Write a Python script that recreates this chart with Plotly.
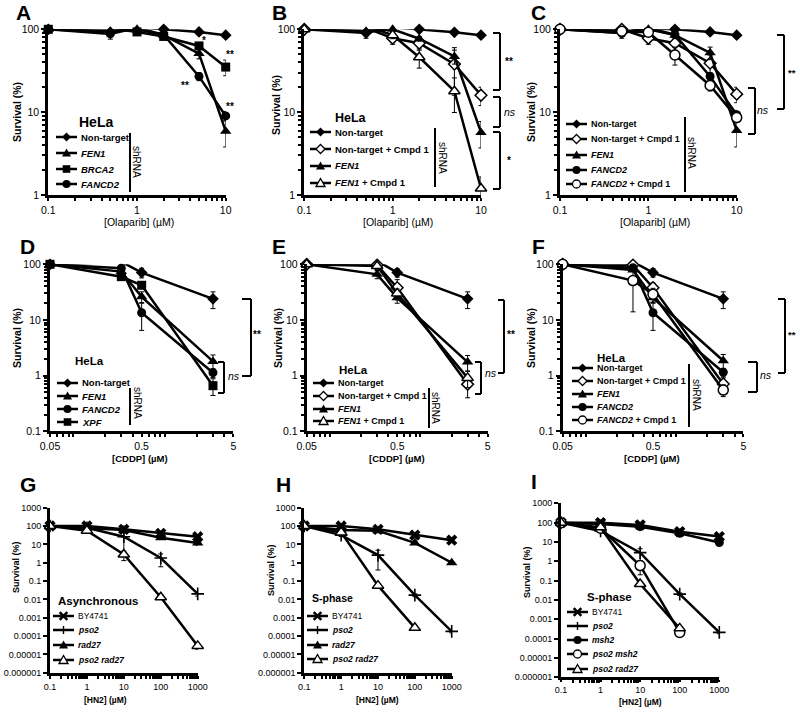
import plotly.graph_objects as go

W, H = 800, 713
FONT = "Liberation Sans, Arial, sans-serif"

# ------------------------------------------------------------------ data
OLA_X = [0.1, 0.5, 1, 2, 5, 10]
CDDP_X = [0.05, 0.3, 0.5, 3]
HN2_X = [0.1, 1, 10, 100, 1000]
HN2_X4 = [0.1, 1, 10, 100]

OLA_TICKS = [0.1, 1, 10]
OLA_TICK_LABELS = ["0.1", "1", "10"]
CDDP_TICKS = [0.05, 0.5, 5]
CDDP_TICK_LABELS = ["0.05", "0.5", "5"]
HN2_TICKS = [0.1, 1, 10, 100, 1000]
HN2_TICK_LABELS = ["0.1", "1", "10", "100", "1000"]
SURV_TICKS_OLA = [1, 10, 100]
SURV_LABELS_OLA = ["1", "10", "100"]
SURV_TICKS_CDDP = [0.1, 1, 10, 100]
SURV_LABELS_CDDP = ["0.1", "1", "10", "100"]
SURV_TICKS_HN2 = [1e-6, 1e-5, 1e-4, 1e-3, 1e-2, 0.1, 1, 10, 100, 1000]
SURV_LABELS_HN2 = ["0.000001", "0.00001", "0.0001", "0.001", "0.01",
                   "0.1", "1", "10", "100", "1000"]

# Panel A (Olaparib)
A_NT = [100, 92, 106, 100, 93, 85]
A_NT_SD = [3, 16, 3, 3, 3, 3]
A_FEN1 = [100, 95, 100, 85, 51, 5.9]
A_FEN1_SD = [3, 5, 4, 5, 7, 2.1]
A_BRCA2 = [100, 103, 93, 82, 63, 35]
A_BRCA2_SD = [3, 4, 4, 5, 6, 7.5]
A_FANCD2 = [100, 88, 104, 86, 27, 9.0]
A_FANCD2_SD = [3, 6, 4, 5, 3, 1.2]

# Panel B
B_NT = [100, 90, 106, 100, 92, 85]
B_NT_SD = [3, 12, 3, 3, 3, 3]
B_NTC = [100, 104, 78, 68, 38, 16]
B_NTC_SD = [3, 5, 12, 12, 22, 4]
B_FEN1 = [100, 95, 100, 77, 47, 5.7]
B_FEN1_SD = [3, 5, 5, 5, 9, 2]
B_FENC = [100, 110, 85, 46, 17.9, 1.2]
B_FENC_SD = [3, 6, 8, 12, 8, 0.45]

# Panel C
C_NT = [100, 90, 103, 100, 93, 85]
C_NT_SD = [3, 12, 3, 12, 3, 3]
C_NTC = [100, 100, 78, 68, 39, 16.5]
C_NTC_SD = [3, 5, 12, 12, 10, 3.5]
C_FEN1 = [100, 95, 100, 85, 52, 6.0]
C_FEN1_SD = [3, 5, 5, 5, 9, 2.2]
C_FANCD2 = [100, 90, 104, 86, 27, 9.3]
C_FANCD2_SD = [3, 8, 4, 5, 3, 1.2]
C_FANCDC = [100, 95, 92, 49, 21, 8.6]
C_FANCDC_SD = [3, 5, 5, 12, 3, 1]

# Panel D (CDDP)
D_NT = [100, 111, 71, 24]
D_NT_SD = [3, 5, 14, 8]
D_FEN1 = [100, 74, 26, 1.8]
D_FEN1_SD = [3, 5, 6, 0.55]
D_FANCD2 = [100, 85, 13.5, 1.13]
D_FANCD2_SD = [3, 5, 7, 0.2]
D_XPF = [100, 60, 42, 0.66]
D_XPF_SD = [3, 5, 5, 0.22]

# Panel E
E_NT = [100, 115, 71, 24]
E_NT_SD = [3, 5, 12, 8]
E_NTC = [100, 97, 38, 0.70]
E_NTC_SD = [3, 5, 15, 0.3]
E_FEN1 = [100, 66, 25, 1.75]
E_FEN1_SD = [3, 11, 5, 0.55]
E_FENC = [100, 93, 30, 0.91]
E_FENC_SD = [3, 5, 6, 0.3]

# Panel F
F_NT = [100, 111, 71, 24]
F_NT_SD = [3, 5, 12, 8]
F_NTC = [100, 97, 38, 0.71]
F_NTC_SD = [3, 5, 8, 0.2]
F_FEN1 = [100, 79, 25, 1.85]
F_FEN1_SD = [3, 5, 5, 0.55]
F_FANCD2 = [100, 87, 13.5, 1.15]
F_FANCD2_SD = [3, 5, 7, 0.2]
F_FANCDC = [100, 51, 29, 0.55]
F_FANCDC_SD = [3, 37, 8, 0.13]

# Panel G (HN2, asynchronous)
G_BY = [100, 100, 66, 40, 26]
G_BY_SD = [5, 5, 8, 6, 4]
G_PSO2 = [100, 80, 26, 1.8, 0.02]
G_PSO2_SD = [5, 10, 23, 1.2, 0.005]
G_RAD27 = [100, 75, 60, 23, 12]
G_RAD27_SD = [5, 8, 8, 4, 3]
G_PR = [100, 56, 2.8, 0.013, 0.000029]
G_PR_SD = [5, 8, 1.5, 0.002, 0.00001]

# Panel H (HN2, S-phase)
H_BY = [100, 100, 66, 32, 17]
H_BY_SD = [5, 5, 8, 5, 3]
H_PSO2 = [100, 32, 2.6, 0.017, 0.00018]
H_PSO2_SD = [5, 5, 2.2, 0.003, 0.00003]
H_RAD27 = [100, 60, 55, 12, 1.0]
H_RAD27_SD = [5, 8, 8, 2, 0.15]
H_PR = [100, 45, 0.056, 0.00028]
H_PR_SD = [5, 6, 0.01, 0.00005]

# Panel I (HN2, S-phase)
I_BY = [100, 100, 76, 34, 19]
I_BY_SD = [5, 5, 8, 5, 3]
I_PSO2 = [100, 37, 2.8, 0.02, 0.00021]
I_PSO2_SD = [5, 5, 1.7, 0.003, 0.00003]
I_MSH2 = [100, 85, 62, 28, 9.3]
I_MSH2_SD = [5, 6, 6, 4, 1.5]
I_PM = [100, 51, 0.6, 0.00021]
I_PM_SD = [5, 6, 0.4, 0.00004]
I_PR = [100, 57, 0.067, 0.00034]
I_PR_SD = [5, 6, 0.012, 0.00005]

# legend labels
L_NT = "<b>Non-target</b>"
L_NTC = "<b>Non-target + Cmpd 1</b>"
L_FEN1 = "<b><i>FEN1</i></b>"
L_FENC = "<b><i>FEN1</i> + Cmpd 1</b>"
L_BRCA2 = "<b><i>BRCA2</i></b>"
L_FANCD2 = "<b><i>FANCD2</i></b>"
L_FANCDC = "<b><i>FANCD2</i> + Cmpd 1</b>"
L_XPF = "<b><i>XPF</i></b>"
L_BY = "BY4741"
L_PSO2 = "<b><i>pso2</i></b>"
L_RAD27 = "<b><i>rad27</i></b>"
L_MSH2 = "<b><i>msh2</i></b>"
L_PM = "<b><i>pso2 msh2</i></b>"
L_PR = "<b><i>pso2 rad27</i></b>"

# ------------------------------------------------------------------ styles
MARKERS = {
    "dia":   dict(symbol="diamond", size=9, color="black", line=dict(width=0)),
    "dia_o": dict(symbol="diamond", size=9, color="white", line=dict(color="black", width=1.5)),
    "tri":   dict(symbol="triangle-up", size=10, color="black", line=dict(width=0)),
    "tri_o": dict(symbol="triangle-up", size=10, color="white", line=dict(color="black", width=1.5)),
    "sq":    dict(symbol="square", size=9, color="black", line=dict(width=0)),
    "cir":   dict(symbol="circle", size=9, color="black", line=dict(width=0)),
    "cir_o": dict(symbol="circle", size=10, color="white", line=dict(color="black", width=1.5)),
    "x":     dict(symbol="x", size=10, color="black", line=dict(width=0)),
    "cross": dict(symbol="cross-thin", size=9, color="black", line=dict(color="black", width=1.6)),
}


def fx(x):
    return x / W


def fy(y):
    return 1 - y / H


shapes, annotations = [], []


def seg(x0, y0, x1, y1, w=2.0):
    shapes.append(dict(type="line", xref="paper", yref="paper", x0=fx(x0), y0=fy(y0),
                       x1=fx(x1), y1=fy(y1), line=dict(color="black", width=w), layer="above"))


def text(x, y, s, size=10, xanchor="center", yanchor="middle", angle=0, color="black", height=None):
    a = dict(x=fx(x), y=fy(y), xref="paper", yref="paper", text=s, showarrow=False,
             xanchor=xanchor, yanchor=yanchor, textangle=angle,
             font=dict(family=FONT, size=size, color=color))
    if height:
        a.update(height=height, valign="middle")
    annotations.append(a)


def glyph(cx, cy, style):
    b = dict(xref="paper", yref="paper", xsizemode="pixel", ysizemode="pixel",
             xanchor=fx(cx), yanchor=fy(cy), layer="above")
    filled = not style.endswith("_o")
    fill = "black" if filled else "white"
    ln = dict(color="black", width=0 if filled else 1.3)
    kind = style.replace("_o", "")
    if kind == "dia":
        b.update(type="path", path="M0,4.5 L4.5,0 L0,-4.5 L-4.5,0 Z", fillcolor=fill, line=ln)
    elif kind == "tri":
        b.update(type="path", path="M-4.5,-3.5 L4.5,-3.5 L0,4.5 Z", fillcolor=fill, line=ln)
    elif kind == "sq":
        b.update(type="path", path="M-3.8,-3.8 L3.8,-3.8 L3.8,3.8 L-3.8,3.8 Z", fillcolor=fill, line=ln)
    elif kind == "cir":
        b.update(type="circle", x0=-4, x1=4, y0=-4, y1=4, fillcolor=fill, line=ln)
    elif kind == "x":
        b.update(type="path", path="M-3.8,-3.8 L3.8,3.8 M-3.8,3.8 L3.8,-3.8",
                 line=dict(color="black", width=2.6))
    elif kind == "cross":
        b.update(type="path", path="M-4,0 L4,0 M0,-4 L0,4", line=dict(color="black", width=1.4))
    shapes.append(b)


def minor_vals(lo, hi):
    vals = []
    for d in range(int(lo) - 1, int(hi) + 2):
        for m in range(2, 10):
            v = m * 10 ** d
            if 10 ** lo <= v <= 10 ** hi:
                vals.append(v)
    return vals


# ------------------------------------------------------------------ panels
PANELS = [
    dict(letter="A", lpos=(23, 12), xdom=(48.3, 225.7), ydom=(29.3, 195), xr=(-1, 1), yr=(0, 2),
         xt=(OLA_TICKS, OLA_TICK_LABELS), yt=(SURV_TICKS_OLA, SURV_LABELS_OLA), tf=10.5,
         series=[(OLA_X, A_NT, A_NT_SD, "dia", L_NT), (OLA_X, A_FEN1, A_FEN1_SD, "tri", L_FEN1),
                 (OLA_X, A_BRCA2, A_BRCA2_SD, "sq", L_BRCA2), (OLA_X, A_FANCD2, A_FANCD2_SD, "cir", L_FANCD2)],
         xtitle=("[Olaparib] (µM)", 139, 222, 10.5), ytitle=(17, 112, 10.5),
         leg=dict(title=("HeLa", 77, 122, 14), x0=56, rows=[137, 153, 169, 184], fs=9.5,
                  bar=(130, 133, 192), sh=(137, 162))),
    dict(letter="B", lpos=(279, 12), xdom=(304.3, 481), ydom=(29.3, 195), xr=(-1, 1), yr=(0, 2),
         xt=(OLA_TICKS, OLA_TICK_LABELS), yt=(SURV_TICKS_OLA, SURV_LABELS_OLA), tf=10.5,
         series=[(OLA_X, B_NT, B_NT_SD, "dia", L_NT), (OLA_X, B_NTC, B_NTC_SD, "dia_o", L_NTC),
                 (OLA_X, B_FEN1, B_FEN1_SD, "tri", L_FEN1), (OLA_X, B_FENC, B_FENC_SD, "tri_o", L_FENC)],
         xtitle=("[Olaparib] (µM)", 398, 222, 10.5), ytitle=(276, 105, 10.5),
         leg=dict(title=("HeLa", 333, 118, 12.5), x0=310, rows=[132, 149, 166, 183], fs=9.5,
                  bar=(435, 128, 187), sh=(442, 158))),
    dict(letter="C", lpos=(538, 12), xdom=(560, 736.7), ydom=(29.3, 195), xr=(-1, 1), yr=(0, 2),
         xt=(OLA_TICKS, OLA_TICK_LABELS), yt=(SURV_TICKS_OLA, SURV_LABELS_OLA), tf=10.5,
         series=[(OLA_X, C_NT, C_NT_SD, "dia", L_NT), (OLA_X, C_NTC, C_NTC_SD, "dia_o", L_NTC),
                 (OLA_X, C_FEN1, C_FEN1_SD, "tri", L_FEN1), (OLA_X, C_FANCD2, C_FANCD2_SD, "cir", L_FANCD2),
                 (OLA_X, C_FANCDC, C_FANCDC_SD, "cir_o", L_FANCDC)],
         xtitle=("[Olaparib] (µM)", 655, 222, 10.5), ytitle=(531, 112, 10.5),
         leg=dict(title=None, x0=566, rows=[124, 139, 155, 170, 184], fs=9,
                  bar=(685, 117, 192), sh=(692, 153))),
    dict(letter="D", lpos=(27, 246), xdom=(50, 233.3), ydom=(264.3, 431.3), xr=(-1.30103, 0.69897), yr=(-1, 2),
         xt=(CDDP_TICKS, CDDP_TICK_LABELS), yt=(SURV_TICKS_CDDP, SURV_LABELS_CDDP), tf=10.5,
         series=[(CDDP_X, D_NT, D_NT_SD, "dia", L_NT), (CDDP_X, D_FEN1, D_FEN1_SD, "tri", L_FEN1),
                 (CDDP_X, D_FANCD2, D_FANCD2_SD, "cir", L_FANCD2), (CDDP_X, D_XPF, D_XPF_SD, "sq", L_XPF)],
         xtitle=("<b>[CDDP] (µM)</b>", 140, 459, 9.5), ytitle=(17, 338, 10.5),
         leg=dict(title=("HeLa", 73, 361, 11.5), x0=57, rows=[383, 396, 409, 422], fs=9.5,
                  bar=(130, 388, 425), sh=(137, 403))),
    dict(letter="E", lpos=(279, 246), xdom=(306.7, 487.7), ydom=(264.3, 431.3), xr=(-1.30103, 0.69897), yr=(-1, 2),
         xt=(CDDP_TICKS, CDDP_TICK_LABELS), yt=(SURV_TICKS_CDDP, SURV_LABELS_CDDP), tf=10.5,
         series=[(CDDP_X, E_NT, E_NT_SD, "dia", L_NT), (CDDP_X, E_NTC, E_NTC_SD, "dia_o", L_NTC),
                 (CDDP_X, E_FEN1, E_FEN1_SD, "tri", L_FEN1), (CDDP_X, E_FENC, E_FENC_SD, "tri_o", L_FENC)],
         xtitle=("<b>[CDDP] (µM)</b>", 397, 459, 9.5), ytitle=(278, 338, 10.5),
         leg=dict(title=("HeLa", 337, 370, 11.5), x0=313, rows=[383, 396, 409, 421], fs=9,
                  bar=(429, 388, 428), sh=(436, 408))),
    dict(letter="F", lpos=(538, 246), xdom=(562.7, 743.3), ydom=(264.3, 431.3), xr=(-1.30103, 0.69897), yr=(-1, 2),
         xt=(CDDP_TICKS, CDDP_TICK_LABELS), yt=(SURV_TICKS_CDDP, SURV_LABELS_CDDP), tf=10.5,
         series=[(CDDP_X, F_NT, F_NT_SD, "dia", L_NT), (CDDP_X, F_NTC, F_NTC_SD, "dia_o", L_NTC),
                 (CDDP_X, F_FEN1, F_FEN1_SD, "tri", L_FEN1), (CDDP_X, F_FANCD2, F_FANCD2_SD, "cir", L_FANCD2),
                 (CDDP_X, F_FANCDC, F_FANCDC_SD, "cir_o", L_FANCDC)],
         xtitle=("<b>[CDDP] (µM)</b>", 652, 459, 9.5), ytitle=(531, 338, 10.5),
         leg=dict(title=("HeLa", 595, 358, 11.5), x0=572, rows=[368, 381, 394, 407, 420], fs=9,
                  bar=(689, 364, 427), sh=(696, 395))),
    dict(letter="G", lpos=(28, 484), xdom=(50, 197.7), ydom=(507.7, 672.7), xr=(-1, 3), yr=(-6, 3),
         xt=(HN2_TICKS, HN2_TICK_LABELS), yt=(SURV_TICKS_HN2, SURV_LABELS_HN2), tf=9,
         series=[(HN2_X, G_BY, G_BY_SD, "x", L_BY), (HN2_X, G_PSO2, G_PSO2_SD, "cross", L_PSO2),
                 (HN2_X, G_RAD27, G_RAD27_SD, "tri", L_RAD27), (HN2_X, G_PR, G_PR_SD, "tri_o", L_PR)],
         xtitle=("<b>[HN2] (µM)</b>", 105, 700, 8.5), ytitle=(16, 567, 9),
         leg=dict(title=("Asynchronous", 56, 601, 11.5), x0=53, rows=[616, 630, 645, 660], fs=8.5,
                  bar=None, sh=None)),
    dict(letter="H", lpos=(283, 484), xdom=(304.3, 451.7), ydom=(507.7, 672.7), xr=(-1, 3), yr=(-6, 3),
         xt=(HN2_TICKS, HN2_TICK_LABELS), yt=(SURV_TICKS_HN2, SURV_LABELS_HN2), tf=9,
         series=[(HN2_X, H_BY, H_BY_SD, "x", L_BY), (HN2_X, H_PSO2, H_PSO2_SD, "cross", L_PSO2),
                 (HN2_X, H_RAD27, H_RAD27_SD, "tri", L_RAD27), (HN2_X4, H_PR, H_PR_SD, "tri_o", L_PR)],
         xtitle=("<b>[HN2] (µM)</b>", 377, 700, 8.5), ytitle=(271, 570, 9),
         leg=dict(title=("S-phase", 310, 598, 10.5), x0=307, rows=[616, 630, 645, 659], fs=8.5,
                  bar=None, sh=None)),
    dict(letter="I", lpos=(534, 481), xdom=(561, 719.3), ydom=(503.3, 677.3), xr=(-1, 3), yr=(-6, 3),
         xt=(HN2_TICKS, HN2_TICK_LABELS), yt=(SURV_TICKS_HN2, SURV_LABELS_HN2), tf=9,
         series=[(HN2_X, I_BY, I_BY_SD, "x", L_BY), (HN2_X, I_PSO2, I_PSO2_SD, "cross", L_PSO2),
                 (HN2_X, I_MSH2, I_MSH2_SD, "cir", L_MSH2), (HN2_X4, I_PM, I_PM_SD, "cir_o", L_PM),
                 (HN2_X4, I_PR, I_PR_SD, "tri_o", L_PR)],
         xtitle=("<b>[HN2] (µM)</b>", 640, 702, 8.5), ytitle=(527, 572, 9),
         leg=dict(title=("S-phase", 585, 597, 11.5), x0=567, rows=[612, 626, 640, 654, 669], fs=8.5,
                  bar=None, sh=None)),
]

fig = go.Figure()
layout = {}

for i, p in enumerate(PANELS, start=1):
    xa = "x" if i == 1 else f"x{i}"
    ya = "y" if i == 1 else f"y{i}"
    xkey = "xaxis" if i == 1 else f"xaxis{i}"
    ykey = "yaxis" if i == 1 else f"yaxis{i}"
    common = dict(type="log", showline=True, linewidth=3, linecolor="black", showgrid=False,
                  zeroline=False, ticks="outside", ticklen=4, tickwidth=2, tickcolor="black",
                  automargin=False,
                  tickfont=dict(family=FONT, size=p["tf"], color="black"), fixedrange=True)
    layout[xkey] = dict(common, domain=[fx(p["xdom"][0]), fx(p["xdom"][1])], range=list(p["xr"]),
                        anchor=ya, tickvals=p["xt"][0], ticktext=p["xt"][1],
                        ticklen=2 if p["letter"] == "I" else 3,
                        minor=dict(tickvals=minor_vals(*p["xr"]), ticks="outside", ticklen=3,
                                   tickwidth=1.5, tickcolor="black"))
    ymin = dict(tickvals=minor_vals(*p["yr"]), ticks="outside", ticklen=3, tickwidth=1.5,
                tickcolor="black") if p["yr"][1] - p["yr"][0] <= 3 else dict(ticks="")
    layout[ykey] = dict(common, domain=[fy(p["ydom"][1]), fy(p["ydom"][0])], range=list(p["yr"]),
                        anchor=xa, tickvals=p["yt"][0], ticktext=p["yt"][1], minor=ymin)

    for (xs, ys, sd, sty, name) in p["series"]:
        fig.add_trace(go.Scatter(
            x=xs, y=ys, xaxis=xa, yaxis=ya, mode="lines+markers", name=name,
            line=dict(color="black", width=2.5), marker=MARKERS[sty], cliponaxis=False,
            error_y=dict(type="data", array=sd, symmetric=True, color="black", thickness=1, width=2.5),
            showlegend=False, hoverinfo="skip"))

    # panel letter and axis titles
    text(p["lpos"][0], p["lpos"][1], f"<b>{p['letter']}</b>", size=21, height=16)
    t, tx, ty, ts = p["xtitle"]
    text(tx, ty, t, size=ts)
    yx, yy, ys_ = p["ytitle"]
    text(yx, yy, "<b>Survival (%)</b>", size=ys_, angle=-90)

    # legend block
    lg = p["leg"]
    if lg["title"]:
        tt, tx, ty, ts = lg["title"]
        text(tx, ty, f"<b>{tt}</b>", size=ts, xanchor="left")
    for (xs, ys, sd, sty, name), ry in zip(p["series"], lg["rows"]):
        seg(lg["x0"], ry, lg["x0"] + 21, ry, w=2.5)
        glyph(lg["x0"] + 10.5, ry, sty)
        text(lg["x0"] + 23, ry, name, size=lg["fs"], xanchor="left")
    if lg["bar"]:
        bx, by0, by1 = lg["bar"]
        seg(bx, by0, bx, by1, w=2)
        text(lg["sh"][0], lg["sh"][1], "shRNA", size=10, angle=90)


def bracket(xl, xr, y0, y1, w=2):
    seg(xl, y0, xr, y0, w)
    seg(xr, y0, xr, y1, w)
    seg(xl, y1, xr, y1, w)


# Panel A significance marks
text(204, 40, "<b>*</b>", size=10)
text(230, 55, "<b>**</b>", size=10)
text(185, 86, "<b>**</b>", size=10)
text(230, 107, "<b>**</b>", size=10)

# Panel B
bracket(493, 500, 33, 90)
bracket(493, 500, 97, 127)
bracket(493, 500, 132, 189)
text(509, 62, "<b>**</b>", size=10)
text(510, 112, "<i>ns</i>", size=10.5)
text(509, 160, "<b>*</b>", size=10)

# Panel C
bracket(777, 784, 35, 109)
bracket(748, 755, 88, 134)
text(763, 110, "<i>ns</i>", size=10.5)
text(792, 72, "<b>**</b>", size=9.5)

# Panel D
bracket(242, 251, 299, 376)
bracket(218, 224, 362, 393)
text(234, 376, "<i>ns</i>", size=10.5)
text(257, 335, "<b>**</b>", size=10)

# Panel E
bracket(498, 504, 300, 373)
bracket(475, 481, 362, 394)
text(491, 373, "<i>ns</i>", size=10.5)
text(511, 335, "<b>**</b>", size=10)

# Panel F
bracket(778, 785, 299, 373)
bracket(748, 757, 362, 392)
text(766, 375, "<i>ns</i>", size=10.5)
text(792, 335, "<b>**</b>", size=9.5)

fig.update_layout(
    width=W, height=H, margin=dict(l=0, r=0, t=0, b=0, autoexpand=False),
    paper_bgcolor="white", plot_bgcolor="white", showlegend=False,
    font=dict(family=FONT, color="black"),
    shapes=shapes, annotations=annotations, **layout)

# remove the default 8px page margin so the 800x713 figure fills the window
fig.write_html("out.html", config={"displayModeBar": False},
               post_script="document.body.style.margin='0px';")
